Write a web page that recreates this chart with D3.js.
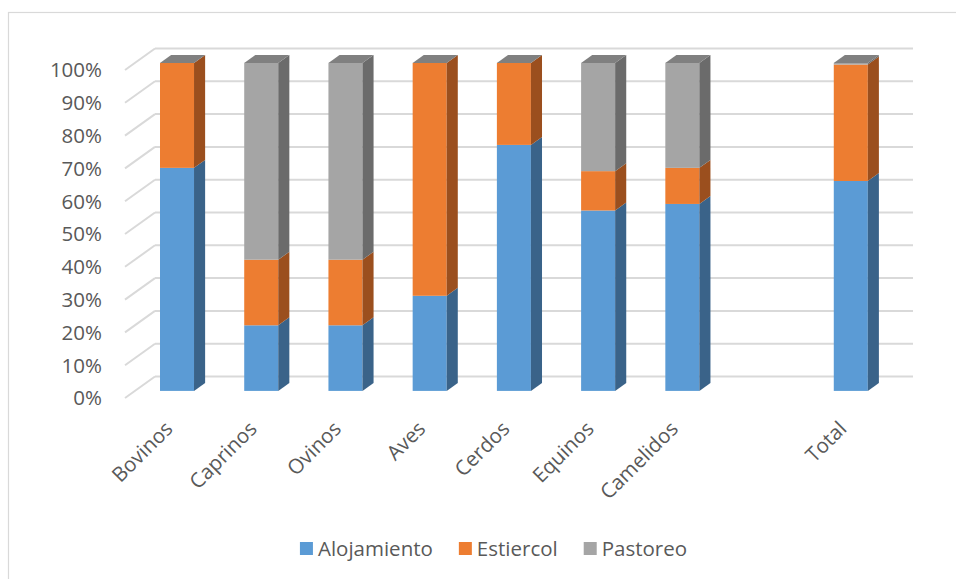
<!DOCTYPE html>
<html lang="es">
<head>
  <meta charset="UTF-8" />
  <title>Alojamiento / Estiercol / Pastoreo</title>
  <script src="https://d3js.org/d3.v7.min.js"></script>
  <style>
    body { margin: 0; background: white; }
    svg { display: block; font-family: "Open Sans", sans-serif; }
  </style>
</head>
<body>
<div id="chart"></div>
<script>
// data (percent), "" is the empty slot between Camelidos and Total
var categories = ["Bovinos", "Caprinos", "Ovinos", "Aves", "Cerdos", "Equinos", "Camelidos", "", "Total"];
var alojamiento = [68, 20, 20, 29, 75, 55, 57, null, 64];
var estiercol   = [32, 20, 20, 71, 25, 12, 11, null, 35.5];
var pastoreo    = [0, 60, 60, 0, 0, 33, 32, null, 0.5];
var seriesNames = ["Alojamiento", "Estiercol", "Pastoreo"];
var yTicks = [0, 10, 20, 30, 40, 50, 60, 70, 80, 90, 100];

var W = 956, H = 579;
var front  = ["#5B9BD5", "#ED7D31", "#A5A5A5"];
var side   = ["#3A6389", "#9B4F1E", "#6B6B6B"];
var topCol = "#808080";
var textCol = "#595959";
var gridCol = "#d9d9d9";
var fontSize = "20.5px";

// depth: from front axis plane to back wall
var wallDx = 30, wallDy = -21.5;
var barFront = 0.33, barBack = 0.7;   // fraction of the depth

var svg = d3.select("#chart").append("svg")
  .attr("width", W).attr("height", H);

// chart area border
svg.append("rect")
  .attr("x", 8.5).attr("y", 12.5)
  .attr("width", W + 10).attr("height", H + 10)
  .style("fill", "none").style("stroke", gridCol).style("stroke-width", 1.2);

var x = d3.scaleBand()
  .domain(categories)
  .range([125, 883])
  .paddingInner(0.596)
  .paddingOuter(0.298);

var y = d3.scaleLinear().domain([0, 100]).range([398, 70]);

// back wall gridlines + left floor diagonals
var grid = svg.append("g");
yTicks.forEach(function(t) {
  var yb = y(t) + wallDy;
  grid.append("line")
    .attr("x1", 125 + wallDx).attr("x2", 883 + wallDx)
    .attr("y1", yb).attr("y2", yb)
    .style("stroke", gridCol).style("stroke-width", 2);
  grid.append("line")
    .attr("x1", 125).attr("y1", y(t))
    .attr("x2", 125 + wallDx).attr("y2", yb)
    .style("stroke", gridCol).style("stroke-width", 2);
});

// y axis labels
svg.append("g").selectAll("text")
  .data(yTicks).enter().append("text")
  .attr("x", 102)
  .attr("y", function(d) { return y(d) + 2; })
  .attr("text-anchor", "end")
  .attr("dominant-baseline", "middle")
  .style("font-size", fontSize)
  .style("fill", textCol)
  .text(function(d) { return d + "%"; });

// stacked 3d bars
var stacks = categories.map(function(c, i) {
  return { cat: c, vals: [alojamiento[i], estiercol[i], pastoreo[i]] };
}).filter(function(d) { return d.vals[0] != null; });

var fdx = wallDx * barFront, fdy = wallDy * barFront;
var ddx = wallDx * (barBack - barFront), ddy = wallDy * (barBack - barFront);

var bars = svg.append("g");
stacks.forEach(function(s) {
  var x0 = x(s.cat) + fdx, w = x.bandwidth();
  var acc = 0, yTop;
  s.vals.forEach(function(v, k) {
    var y0 = y(acc) + fdy;
    acc += v;
    var y1 = y(acc) + fdy;
    yTop = y1;
    if (v <= 0) return;
    bars.append("rect")
      .attr("x", x0).attr("y", y1)
      .attr("width", w).attr("height", y0 - y1)
      .style("fill", front[k]);
    bars.append("polygon")
      .attr("points", [
        [x0 + w, y0], [x0 + w + ddx, y0 + ddy],
        [x0 + w + ddx, y1 + ddy], [x0 + w, y1]
      ].join(" "))
      .style("fill", side[k]);
  });
  bars.append("polygon")
    .attr("points", [
      [x0, yTop], [x0 + ddx, yTop + ddy],
      [x0 + w + ddx, yTop + ddy], [x0 + w, yTop]
    ].join(" "))
    .style("fill", topCol);
});

// category labels
svg.append("g").selectAll("text")
  .data(categories.filter(function(c) { return c !== ""; }))
  .enter().append("text")
  .attr("transform", function(d) {
    var cx = x(d) + fdx + x.bandwidth() / 2 - 3;
    return "translate(" + cx + ",430) rotate(-45)";
  })
  .attr("text-anchor", "end")
  .style("font-size", fontSize)
  .style("fill", textCol)
  .text(function(d) { return d; });

// legend
var legend = svg.append("g");
var lx = 0;
seriesNames.forEach(function(n, k) {
  var g = legend.append("g").attr("transform", "translate(" + lx + ",0)");
  g.append("rect").attr("x", 0).attr("y", 542).attr("width", 13).attr("height", 13)
    .style("fill", front[k]);
  var t = g.append("text").attr("x", 18).attr("y", 556)
    .style("font-size", fontSize).style("fill", textCol).text(n);
  lx += 18 + t.node().getComputedTextLength() + 26;
});
var legendW = lx - 26;
legend.attr("transform", "translate(" + (493.5 - legendW / 2) + ",0)");
</script>
</body>
</html>
